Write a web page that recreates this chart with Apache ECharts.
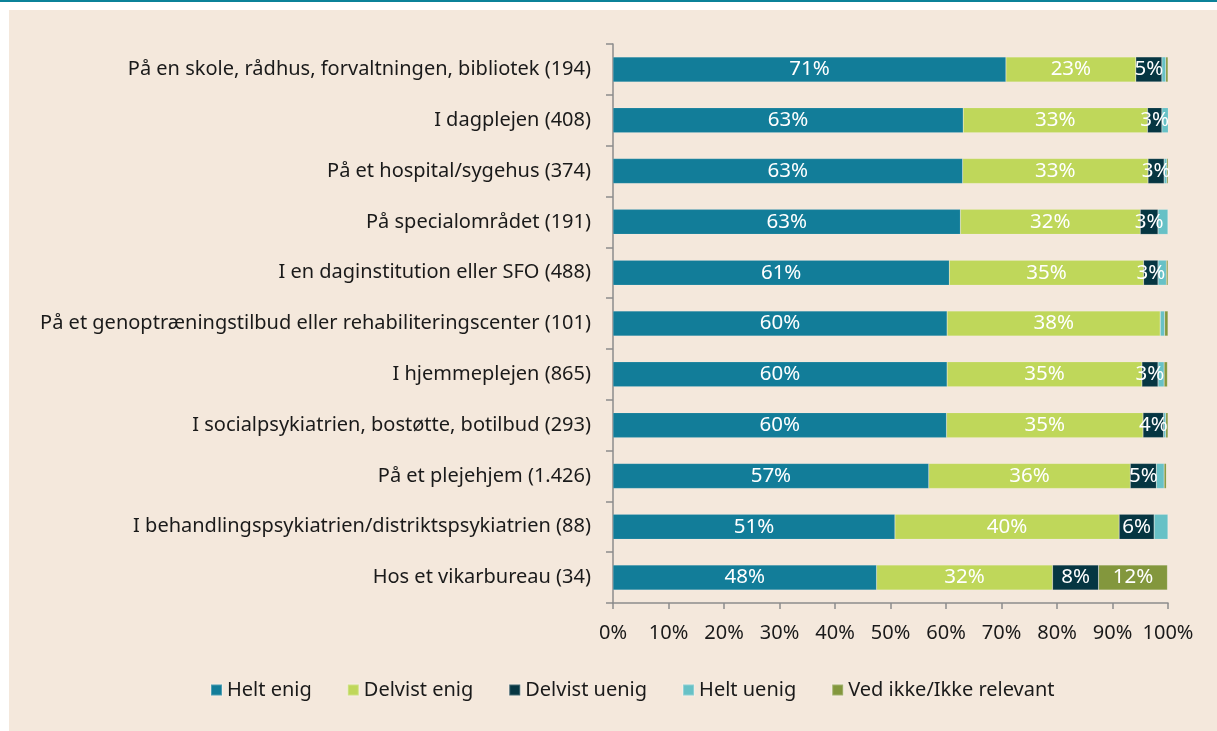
<!DOCTYPE html>
<html>
<head>
<meta charset="utf-8">
<script src="https://cdn.jsdelivr.net/npm/echarts@6/dist/echarts.min.js"></script>
<style>
html,body{margin:0;padding:0;background:#ffffff;}
#c{width:1217px;height:731px;}
</style>
</head>
<body>
<div id="c"></div>
<script>
var categories = [
  "På en skole, rådhus, forvaltningen, bibliotek (194)",
  "I dagplejen (408)",
  "På et hospital/sygehus (374)",
  "På specialområdet (191)",
  "I en daginstitution eller SFO (488)",
  "På et genoptræningstilbud eller rehabiliteringscenter (101)",
  "I hjemmeplejen (865)",
  "I socialpsykiatrien, bostøtte, botilbud (293)",
  "På et plejehjem (1.426)",
  "I behandlingspsykiatrien/distriktspsykiatrien (88)",
  "Hos et vikarbureau (34)"
];
var seriesNames = ["Helt enig", "Delvist enig", "Delvist uenig", "Helt uenig", "Ved ikke/Ikke relevant"];
var heltEnig     = [70.8, 63.1, 63.0, 62.6, 60.6, 60.2, 60.2, 60.1, 56.9, 50.8, 47.5];
var delvistEnig  = [23.4, 33.2, 33.4, 32.4, 35.0, 38.4, 35.1, 35.4, 36.3, 40.4, 31.7];
var delvistUenig = [4.7, 2.6, 2.9, 3.2, 2.6, 0, 2.9, 3.7, 4.7, 6.3, 8.3];
var heltUenig    = [0.7, 1.3, 0.5, 1.8, 1.5, 0.8, 1.1, 0.4, 1.4, 2.5, 0];
var vedIkke      = [0.4, 0.2, 0.3, 0.0, 0.3, 0.6, 0.6, 0.4, 0.4, 0.0, 12.4];
var xTicks = [0, 10, 20, 30, 40, 50, 60, 70, 80, 90, 100];

var colors = ["#127d99", "#bfd75a", "#063642", "#67c1c6", "#83973d"];
var allData = [heltEnig, delvistEnig, delvistUenig, heltUenig, vedIkke];
var showLabel = [true, true, true, false, true];
var fontFam = "'Noto Sans', 'Open Sans', sans-serif";

var series = seriesNames.map(function (name, i) {
  return {
    name: name,
    type: 'bar',
    stack: 'total',
    barWidth: 25,
    data: allData[i],
    itemStyle: { color: colors[i], borderColor: 'rgba(255,255,255,0.25)', borderWidth: 0.5 },
    label: {
      show: showLabel[i],
      position: 'inside',
      color: '#ffffff',
      fontSize: 20.5,
      fontFamily: fontFam,
      formatter: function (p) {
        return p.value >= 2.5 ? Math.round(p.value) + '%' : '';
      }
    },
    emphasis: { disabled: true }
  };
});

var chart = echarts.init(document.getElementById('c'), null, { renderer: 'canvas' });
chart.setOption({
  backgroundColor: '#ffffff',
  animation: false,
  color: colors,
  graphic: [
    { type: 'rect', z: -10, shape: { x: 9, y: 10, width: 1208, height: 721 }, style: { fill: '#f4e8dc' } },
    { type: 'rect', z: -10, shape: { x: 0, y: 0, width: 1217, height: 2 }, style: { fill: '#0b8299' } }
  ],
  grid: { left: 613, right: 49, top: 44, bottom: 128 },
  legend: {
    data: seriesNames,
    left: 205,
    top: 675,
    itemWidth: 11,
    itemHeight: 11,
    itemGap: 35,
    icon: 'rect',
    textStyle: { fontSize: 20, color: '#1a1a1a', fontFamily: fontFam }
  },
  xAxis: {
    type: 'value',
    min: 0,
    max: 100,
    interval: 10,
    axisLine: { show: true, lineStyle: { color: '#8c8c8c', width: 1.5 } },
    axisTick: { show: true, length: 6, lineStyle: { color: '#8c8c8c', width: 1.5 } },
    splitLine: { show: false },
    axisLabel: { formatter: '{value}%', fontSize: 20, color: '#1a1a1a', margin: 20, fontFamily: fontFam }
  },
  yAxis: {
    type: 'category',
    inverse: true,
    data: categories,
    axisLine: { show: true, lineStyle: { color: '#8c8c8c', width: 1.5 } },
    axisTick: { show: true, length: 7, lineStyle: { color: '#8c8c8c', width: 1.5 } },
    axisLabel: { fontSize: 20, color: '#1a1a1a', margin: 22, fontFamily: fontFam }
  },
  series: series
});
</script>
</body>
</html>
